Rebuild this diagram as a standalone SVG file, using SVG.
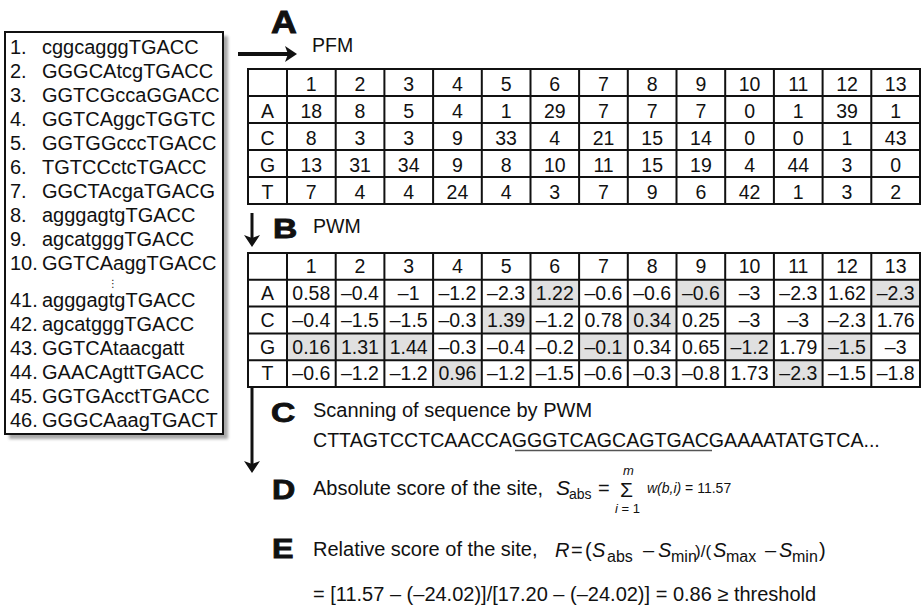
<svg xmlns="http://www.w3.org/2000/svg" width="923" height="611" viewBox="0 0 923 611">
<style>
.t{font-family:"Liberation Sans",Arial,Helvetica,sans-serif;fill:#111}
.lst{font-size:20px}
.big{font-weight:bold;font-size:28px;stroke:#111;stroke-width:0.9}
.lbl{font-size:19.5px}
.cell{font-size:19.5px;text-anchor:middle}
.grid{stroke:#111;stroke-width:2;fill:none}
.shade{fill:#e0e0e0}
.it{font-style:italic}
.sub{font-size:14px}
.sub2{font-size:16px}
.sm{font-size:13px}
.conn{stroke:#111;fill:none}
</style>
<defs>
<filter id="blur" x="-5%" y="-5%" width="110%" height="110%"><feGaussianBlur stdDeviation="1.5"/></filter>
<marker id="ah" viewBox="0 0 12 16" refX="6" refY="8" markerWidth="12" markerHeight="16" orient="auto" markerUnits="userSpaceOnUse">
<path d="M0,0 L12,8 L0,16 L3,8 Z" fill="#111"/>
</marker>
</defs>
<rect width="923" height="611" fill="#fff"/>

<g id="sequences">
<rect x="9" y="36" width="219" height="403" fill="#a8a8a8" filter="url(#blur)"/>
<rect x="5" y="32" width="218" height="402" fill="#fff" stroke="#111" stroke-width="2"/>
<g class="t lst">
<text x="10" y="54">1.</text><text x="42" y="54">cggcagggTGACC</text>
<text x="10" y="78">2.</text><text x="42" y="78">GGGCAtcgTGACC</text>
<text x="10" y="102">3.</text><text x="42" y="102">GGTCGccaGGACC</text>
<text x="10" y="126">4.</text><text x="42" y="126">GGTCAggcTGGTC</text>
<text x="10" y="150">5.</text><text x="42" y="150">GGTGGcccTGACC</text>
<text x="10" y="174">6.</text><text x="42" y="174">TGTCCctcTGACC</text>
<text x="10" y="198">7.</text><text x="42" y="198">GGCTAcgaTGACG</text>
<text x="10" y="222">8.</text><text x="42" y="222">agggagtgTGACC</text>
<text x="10" y="246">9.</text><text x="42" y="246">agcatgggTGACC</text>
<text x="10" y="270">10.</text><text x="42" y="270">GGTCAaggTGACC</text>
<text x="113" y="287" text-anchor="middle" style="font-family:'DejaVu Sans',sans-serif;font-size:10px">⋮</text>
<text x="10" y="307">41.</text><text x="42" y="307">agggagtgTGACC</text>
<text x="10" y="331">42.</text><text x="42" y="331">agcatgggTGACC</text>
<text x="10" y="355">43.</text><text x="42" y="355">GGTCAtaacgatt</text>
<text x="10" y="379">44.</text><text x="42" y="379">GAACAgttTGACC</text>
<text x="10" y="403">45.</text><text x="42" y="403">GGTGAcctTGACC</text>
<text x="10" y="427">46.</text><text x="42" y="427">GGGCAaagTGACT</text>
</g>
</g>

<g id="pfm">
<text class="t big" transform="translate(271 33) scale(1.12 1)" style="font-size:32px">A</text>
<text class="t lbl" x="312" y="52">PFM</text>
<path class="grid" d="M248 96H920M248 123H920M248 150H920M248 177H920M287 69V204M335.7 69V204M384.4 69V204M433.1 69V204M481.8 69V204M530.5 69V204M579.1 69V204M627.8 69V204M676.5 69V204M725.2 69V204M773.9 69V204M822.6 69V204M871.3 69V204"/>
<rect class="grid" x="248" y="69" width="672" height="135" stroke-width="2.5"/>
<g class="t cell">
<text y="90.5"><tspan x="311.3">1</tspan><tspan x="360">2</tspan><tspan x="408.7">3</tspan><tspan x="457.4">4</tspan><tspan x="506.1">5</tspan><tspan x="554.8">6</tspan><tspan x="603.5">7</tspan><tspan x="652.2">8</tspan><tspan x="700.9">9</tspan><tspan x="749.6">10</tspan><tspan x="798.3">11</tspan><tspan x="847">12</tspan><tspan x="895.7">13</tspan></text>
<text y="117.5"><tspan x="267.5">A</tspan><tspan x="311.3">18</tspan><tspan x="360">8</tspan><tspan x="408.7">5</tspan><tspan x="457.4">4</tspan><tspan x="506.1">1</tspan><tspan x="554.8">29</tspan><tspan x="603.5">7</tspan><tspan x="652.2">7</tspan><tspan x="700.9">7</tspan><tspan x="749.6">0</tspan><tspan x="798.3">1</tspan><tspan x="847">39</tspan><tspan x="895.7">1</tspan></text>
<text y="144.5"><tspan x="267.5">C</tspan><tspan x="311.3">8</tspan><tspan x="360">3</tspan><tspan x="408.7">3</tspan><tspan x="457.4">9</tspan><tspan x="506.1">33</tspan><tspan x="554.8">4</tspan><tspan x="603.5">21</tspan><tspan x="652.2">15</tspan><tspan x="700.9">14</tspan><tspan x="749.6">0</tspan><tspan x="798.3">0</tspan><tspan x="847">1</tspan><tspan x="895.7">43</tspan></text>
<text y="171.5"><tspan x="267.5">G</tspan><tspan x="311.3">13</tspan><tspan x="360">31</tspan><tspan x="408.7">34</tspan><tspan x="457.4">9</tspan><tspan x="506.1">8</tspan><tspan x="554.8">10</tspan><tspan x="603.5">11</tspan><tspan x="652.2">15</tspan><tspan x="700.9">19</tspan><tspan x="749.6">4</tspan><tspan x="798.3">44</tspan><tspan x="847">3</tspan><tspan x="895.7">0</tspan></text>
<text y="198.5"><tspan x="267.5">T</tspan><tspan x="311.3">7</tspan><tspan x="360">4</tspan><tspan x="408.7">4</tspan><tspan x="457.4">24</tspan><tspan x="506.1">4</tspan><tspan x="554.8">3</tspan><tspan x="603.5">7</tspan><tspan x="652.2">9</tspan><tspan x="700.9">6</tspan><tspan x="749.6">42</tspan><tspan x="798.3">1</tspan><tspan x="847">3</tspan><tspan x="895.7">2</tspan></text>
</g>
</g>

<g id="pwm">
<text class="t big" transform="translate(273 238) scale(1.2 1)">B</text>
<text class="t lbl" x="313" y="233">PWM</text>
<g class="shade">
<rect x="530.5" y="279.8" width="48.6" height="26.8"/>
<rect x="676.5" y="279.8" width="48.7" height="26.8"/>
<rect x="871.3" y="279.8" width="48.7" height="26.8"/>
<rect x="481.8" y="306.6" width="48.7" height="26.8"/>
<rect x="627.8" y="306.6" width="48.7" height="26.8"/>
<rect x="287" y="333.4" width="48.7" height="26.8"/>
<rect x="335.7" y="333.4" width="48.7" height="26.8"/>
<rect x="384.4" y="333.4" width="48.7" height="26.8"/>
<rect x="579.1" y="333.4" width="48.7" height="26.8"/>
<rect x="725.2" y="333.4" width="48.7" height="26.8"/>
<rect x="822.6" y="333.4" width="48.7" height="26.8"/>
<rect x="433.1" y="360.2" width="48.7" height="26.8"/>
<rect x="773.9" y="360.2" width="48.7" height="26.8"/>
</g>
<path class="grid" d="M248 279.8H920M248 306.6H920M248 333.4H920M248 360.2H920M287 253V387M335.7 253V387M384.4 253V387M433.1 253V387M481.8 253V387M530.5 253V387M579.1 253V387M627.8 253V387M676.5 253V387M725.2 253V387M773.9 253V387M822.6 253V387M871.3 253V387"/>
<rect class="grid" x="248" y="253" width="672" height="134" stroke-width="2.5"/>
<g class="t cell">
<text y="273.2"><tspan x="311.3">1</tspan><tspan x="360">2</tspan><tspan x="408.7">3</tspan><tspan x="457.4">4</tspan><tspan x="506.1">5</tspan><tspan x="554.8">6</tspan><tspan x="603.5">7</tspan><tspan x="652.2">8</tspan><tspan x="700.9">9</tspan><tspan x="749.6">10</tspan><tspan x="798.3">11</tspan><tspan x="847">12</tspan><tspan x="895.7">13</tspan></text>
<text y="300"><tspan x="267.5">A</tspan><tspan x="311.3">0.58</tspan><tspan x="360">–0.4</tspan><tspan x="408.7">–1</tspan><tspan x="457.4">–1.2</tspan><tspan x="506.1">–2.3</tspan><tspan x="554.8">1.22</tspan><tspan x="603.5">–0.6</tspan><tspan x="652.2">–0.6</tspan><tspan x="700.9">–0.6</tspan><tspan x="749.6">–3</tspan><tspan x="798.3">–2.3</tspan><tspan x="847">1.62</tspan><tspan x="895.7">–2.3</tspan></text>
<text y="326.8"><tspan x="267.5">C</tspan><tspan x="311.3">–0.4</tspan><tspan x="360">–1.5</tspan><tspan x="408.7">–1.5</tspan><tspan x="457.4">–0.3</tspan><tspan x="506.1">1.39</tspan><tspan x="554.8">–1.2</tspan><tspan x="603.5">0.78</tspan><tspan x="652.2">0.34</tspan><tspan x="700.9">0.25</tspan><tspan x="749.6">–3</tspan><tspan x="798.3">–3</tspan><tspan x="847">–2.3</tspan><tspan x="895.7">1.76</tspan></text>
<text y="353.6"><tspan x="267.5">G</tspan><tspan x="311.3">0.16</tspan><tspan x="360">1.31</tspan><tspan x="408.7">1.44</tspan><tspan x="457.4">–0.3</tspan><tspan x="506.1">–0.4</tspan><tspan x="554.8">–0.2</tspan><tspan x="603.5">–0.1</tspan><tspan x="652.2">0.34</tspan><tspan x="700.9">0.65</tspan><tspan x="749.6">–1.2</tspan><tspan x="798.3">1.79</tspan><tspan x="847">–1.5</tspan><tspan x="895.7">–3</tspan></text>
<text y="380.4"><tspan x="267.5">T</tspan><tspan x="311.3">–0.6</tspan><tspan x="360">–1.2</tspan><tspan x="408.7">–1.2</tspan><tspan x="457.4">0.96</tspan><tspan x="506.1">–1.2</tspan><tspan x="554.8">–1.5</tspan><tspan x="603.5">–0.6</tspan><tspan x="652.2">–0.3</tspan><tspan x="700.9">–0.8</tspan><tspan x="749.6">1.73</tspan><tspan x="798.3">–2.3</tspan><tspan x="847">–1.5</tspan><tspan x="895.7">–1.8</tspan></text>
</g>
</g>

<g id="scan">
<text class="t big" transform="translate(271 422) scale(1.2 1)">C</text>
<text class="t" x="313" y="417" style="font-size:20px">Scanning of sequence by PWM</text>
<text class="t" x="313" y="447" style="font-size:19.6px">CTTAGTCCTCAACCAGGGTCAGCAGTGACGAAAATATGTCA...</text>
<line x1="515" y1="450.5" x2="712" y2="450.5" stroke="#555" stroke-width="1.3"/>
</g>

<g id="absolute-score">
<text class="t big" transform="translate(272 499) scale(1.15 1)">D</text>
<text class="t" x="313" y="495" style="font-size:20px">Absolute score of the site,</text>
<text class="t it" x="556" y="495" style="font-size:21px">S</text>
<text class="t sub" x="569" y="499">abs</text>
<text class="t" x="598" y="495" style="font-size:20px">=</text>
<text class="t" x="620" y="497" style="font-size:21px">Σ</text>
<text class="t it sm" x="623" y="475">m</text>
<text class="t sm" x="615" y="513"><tspan class="it">i</tspan> = 1</text>
<text class="t" x="647" y="493" style="font-size:14px"><tspan class="it">w(b,i)</tspan> = 11.57</text>
</g>

<g id="relative-score">
<text class="t big" transform="translate(272 558) scale(1.15 1)">E</text>
<text class="t" x="313" y="556" style="font-size:20px">Relative score of the site,</text>
<g class="t" style="font-size:20px">
<text class="it" x="555" y="557">R</text>
<text x="571" y="557">=</text>
<text x="585" y="557">(</text>
<text class="it" x="592" y="557">S</text>
<text class="sub2" x="607" y="562">abs</text>
<text x="643" y="557">–</text>
<text class="it" x="658" y="557">S</text>
<text class="sub2" x="671" y="562">min</text>
<text x="695" y="557" style="font-size:17px">)/(</text>
<text class="it" x="713" y="557">S</text>
<text class="sub2" x="726" y="562">max</text>
<text x="765" y="557">–</text>
<text class="it" x="779" y="557">S</text>
<text class="sub2" x="792" y="562">min</text>
<text x="819" y="557">)</text>
</g>
<text class="t" x="313" y="601" style="font-size:20px">= [11.57 – (–24.02)]/[17.20 – (–24.02)] = 0.86 ≥ threshold</text>
</g>

<g id="connectors">
<line class="conn" x1="238" y1="54" x2="291" y2="54" stroke-width="4" marker-end="url(#ah)"/>
<line class="conn" x1="252" y1="213" x2="252" y2="241" stroke-width="3" marker-end="url(#ah)"/>
<line class="conn" x1="252" y1="387" x2="252" y2="467" stroke-width="3" marker-end="url(#ah)"/>
</g>
</svg>
